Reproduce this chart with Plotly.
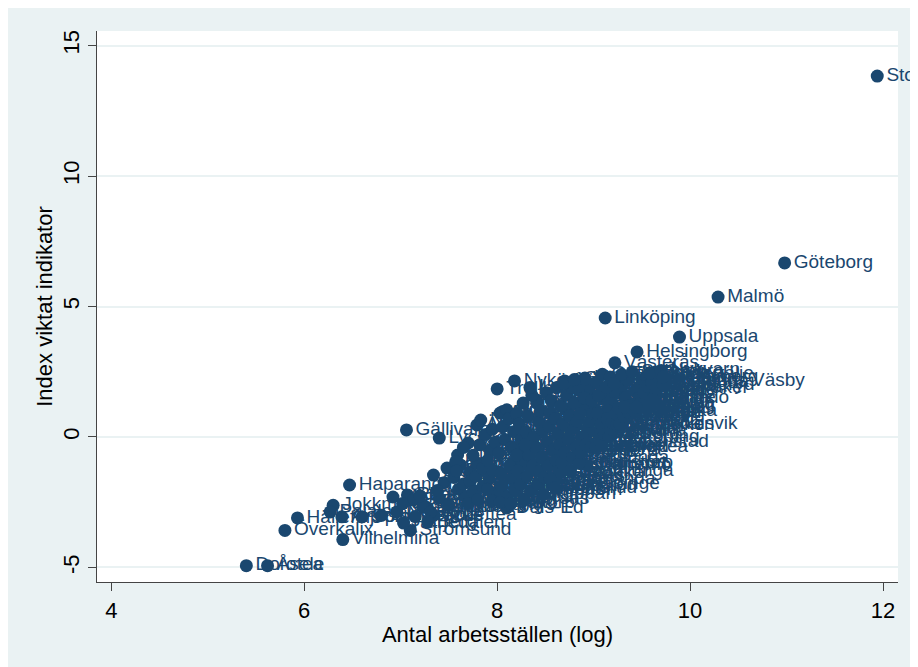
import plotly.graph_objects as go

# ---- data: readable / labelled municipalities ----
namn_a = ["Stockholm", "Göteborg", "Malmö", "Linköping", "Uppsala", "Helsingborg", "Västerås",
          "Örebro", "Södertälje", "Nyköping", "Trollhättan", "Falun", "Gällivare", "Lycksele",
          "Haparanda", "Jokkmokk", "Hällefors", "Överkalix", "Vilhelmina", "Strömsund", "Dorotea",
          "Åsele", "Tranemo", "Hultsfred", "Ovanåker", "Norberg", "Dals-Ed", "Bengtsfors",
          "Sollefteå", "Härjedalen", "Vänersborg", "Katrineholm", "Kalmar", "Sollentuna",
          "Hässleholm", "Piteå", "Falkenberg", "Norrköping", "Alingsås"]
x_a = [11.94, 10.98, 10.29, 9.12, 9.89, 9.45, 9.22, 9.64, 9.68, 8.18, 8.00, 8.41, 7.06, 7.40,
       6.47, 6.30, 5.93, 5.80, 6.40, 7.10, 5.40, 5.62, 8.93, 8.57, 8.64, 7.98, 8.10, 7.27,
       7.34, 7.03, 8.26, 8.22, 9.06, 8.94, 8.79, 8.88, 8.93, 9.20, 8.06]
y_a = [13.83, 6.67, 5.36, 4.56, 3.83, 3.26, 2.84, 2.49, 2.42, 2.15, 1.84, 1.42, 0.27, -0.04,
       -1.84, -2.62, -3.10, -3.58, -3.93, -3.58, -4.93, -4.93, -1.09, -1.84, -1.38, -2.15, -2.72, -2.70,
       -3.00, -3.30, -0.50, -0.95, 0.19, 0.23, 0.34, 0.00, 1.04, 1.23, 0.98]

# ---- small northern / rural municipalities ----
namn_b = ["Pajala", "Arjeplog", "Sorsele", "Bjurholm", "Malå", "Ragunda", "Övertorneå", "Norsjö",
          "Storuman", "Ånge", "Arvidsjaur", "Ydre", "Laxå", "Munkfors", "Storfors", "Ljusnarsberg",
          "Bräcke", "Gullspång", "Berg", "Essunga"]
x_b = [6.27, 6.39, 6.60, 6.80, 6.92, 7.07, 7.13, 6.96, 7.23, 7.31, 7.34, 7.48, 7.20, 7.40,
       7.45, 7.38, 7.15, 7.50, 7.28, 7.02]
y_b = [-2.87, -3.06, -3.06, -3.00, -2.30, -2.22, -2.41, -2.87, -2.68, -2.87, -1.46, -1.19, -2.25, -2.35,
       -1.75, -2.05, -3.05, -2.60, -3.25, -2.55]

namn_c = ["Vindeln", "Nordmaling", "Robertsfors", "Vännäs", "Älvsbyn", "Kalix", "Åre", "Krokom",
          "Ockelbo", "Hofors", "Nordanstig", "Ljusdal", "Orsa", "Älvdalen", "Vansbro", "Malung-Sälen",
          "Rättvik", "Smedjebacken", "Skinnskatteberg", "Fagersta", "Surahammar", "Kungsör", "Arboga",
          "Degerfors", "Askersund", "Lekeberg", "Nora", "Filipstad", "Hagfors", "Torsby", "Eda", "Årjäng"]
x_c = [7.59, 7.62, 7.72, 7.70, 7.79, 7.57, 7.79, 7.93, 7.55, 7.60, 7.65, 7.68, 7.72, 7.75, 7.78, 7.82,
       7.85, 7.85, 7.88, 7.90, 7.92, 7.95, 7.96, 7.98, 7.65, 7.75, 7.83, 7.58, 7.70, 7.80, 7.90, 7.95]
y_c = [-0.69, -1.07, -1.34, -0.23, 0.46, -0.95, -1.00, -0.50, -1.55, -2.00, -1.80, -2.30, -1.70, -2.10, -1.50, -0.30,
       -1.20, -1.90, 0.10, -0.90, -1.60, 0.30, -1.30, -0.20, -0.40, -0.70, 0.65, -1.30, -2.55, -2.40, -2.00, -2.45]

namn_d = ["Aneby", "Boxholm", "Kinda", "Ödeshög", "Vadstena", "Valdemarsvik", "Åtvidaberg", "Söderköping",
          "Mullsjö", "Habo", "Gnosjö", "Sävsjö", "Eksjö", "Tranås", "Vaggeryd", "Lessebo", "Uppvidinge",
          "Tingsryd", "Markaryd", "Alvesta", "Älmhult", "Högsby", "Torsås", "Emmaboda", "Mönsterås",
          "Vimmerby", "Nybro", "Olofström", "Bromölla", "Osby", "Perstorp", "Örkelljunga", "Östra Göinge",
          "Tomelilla", "Hörby", "Höör", "Sjöbo", "Skurup", "Klippan", "Svalöv", "Bjuv", "Åstorp", "Hylte",
          "Laholm", "Båstad"]
x_d = [8.03, 8.10, 8.27, 8.41, 8.02, 8.04, 8.05, 8.06, 8.08, 8.10, 8.12, 8.13, 8.15, 8.15, 8.17,
       8.18, 8.20, 8.21, 8.23, 8.24, 8.25, 8.27, 8.28, 8.30, 8.31, 8.32, 8.33, 8.35, 8.36, 8.37,
       8.38, 8.40, 8.42, 8.43, 8.44, 8.45, 8.46, 8.47, 8.48, 8.49, 8.03, 8.14, 8.20, 8.34, 8.29]
y_d = [0.92, 1.04, -0.96, 1.30, -0.60, -1.40, -1.90, 0.40, -0.10, -2.30, 0.70, -1.10, -1.60, -0.40, 0.20,
       -2.00, 0.90, -1.30, 0.50, -1.80, -0.10, 1.30, -2.40, 0.20, -1.50, 0.80, -0.70, -2.05, 1.60, -1.10,
       0.00, -0.40, -1.80, 0.60, -1.30, 1.00, -0.80, 0.25, -2.20, -1.55, -2.50, -2.55, -0.70, 1.90, -0.30]

namn_e = ["Vetlanda", "Värnamo", "Gislaved", "Nässjö", "Ljungby", "Oskarshamn", "Västervik", "Mörbylånga",
          "Borgholm", "Ronneby", "Karlshamn", "Sölvesborg", "Eslöv", "Landskrona", "Simrishamn", "Ystad",
          "Trelleborg", "Höganäs", "Ängelholm", "Svedala", "Staffanstorp", "Kävlinge", "Lomma", "Burlöv",
          "Vellinge", "Ulricehamn", "Svenljunga", "Mark", "Herrljunga", "Vårgårda", "Bollebygd", "Lerum",
          "Ale", "Lilla Edet", "Stenungsund", "Tjörn", "Orust", "Sotenäs", "Munkedal", "Tanum", "Strömstad",
          "Uddevalla", "Färgelanda", "Mellerud", "Åmål", "Grästorp"]
x_e = [8.55, 8.73, 8.89, 8.70, 8.91, 8.95, 8.90, 9.00, 8.51, 8.52, 8.53, 8.54, 8.56, 8.58, 8.60, 8.61,
       8.62, 8.63, 8.65, 8.66, 8.67, 8.68, 8.70, 8.72, 8.74, 8.75, 8.76, 8.77, 8.78, 8.80, 8.82, 8.83,
       8.84, 8.85, 8.86, 8.87, 8.90, 8.92, 8.96, 8.97, 8.98, 8.99, 8.55, 8.60, 8.69, 8.80]
y_e = [0.92, 1.04, 1.15, 2.15, 2.26, 1.80, 2.20, 1.10, 1.70, -0.20, -1.10, 0.40, 1.40, -0.50, 0.70, -0.90,
       1.90, 0.10, -0.30, 1.20, -1.00, 0.50, -0.60, 1.60, -0.10, 0.80, -1.30, 1.90, -0.80, 1.30, -0.40, 0.60,
       1.80, -1.00, 0.90, -0.60, 1.50, -0.30, 0.60, -0.40, 1.40, 0.90, -1.60, -1.95, 2.05, 2.20]

namn_f = ["Eskilstuna", "Karlstad", "Växjö", "Halmstad", "Gävle", "Borås", "Sundsvall", "Umeå", "Lund",
          "Jönköping", "Skellefteå", "Östersund", "Luleå", "Kristianstad", "Karlskrona", "Gotland", "Varberg",
          "Kungsbacka", "Skövde", "Lidköping", "Mölndal", "Partille", "Härryda", "Kungälv", "Borlänge",
          "Sandviken", "Hudiksvall", "Örnsköldsvik", "Enköping", "Norrtälje", "Huddinge", "Nacka", "Täby",
          "Solna", "Botkyrka", "Haninge", "Järfälla", "Sigtuna", "Motala", "Mjölby"]
x_f = [9.10, 9.18, 9.05, 9.15, 9.25, 9.28, 9.21, 9.30, 9.35, 9.50, 9.02, 9.03, 9.04, 9.07, 9.08, 9.09,
       9.11, 9.13, 9.14, 9.16, 9.17, 9.18, 9.19, 9.21, 9.23, 9.24, 9.26, 9.27, 9.29, 9.31, 9.33, 9.36,
       9.38, 9.40, 9.42, 9.44, 9.47, 9.49, 9.32, 9.44]
y_f = [1.50, 1.40, 1.60, 1.00, 1.90, 1.70, 1.75, 2.00, 2.20, 2.20, -0.40, 2.10, 0.90, -0.20, 0.50, 2.40,
       0.10, 1.90, 0.70, 0.00, 2.30, 0.30, 0.55, 2.05, 0.90, 0.45, 1.10, 0.50, 2.40, 0.80, 1.50, 0.95,
       1.20, 2.50, 1.00, 1.80, 1.50, 1.30, 1.15, 1.15]

namn_g = ["Sundbyberg", "Lidingö", "Tyresö", "Upplands Väsby", "Vallentuna", "Värmdö", "Österåker",
          "Ekerö", "Danderyd", "Nykvarn", "Salem"]
x_g = [9.55, 9.52, 9.56, 9.66, 9.60, 9.62, 9.65, 9.58, 9.72, 9.70, 9.72]
y_g = [2.30, 1.70, 1.95, 2.15, 2.10, 1.50, 1.85, 2.45, 2.00, 2.55, 2.30]

x_ticks = [4, 6, 8, 10, 12]
y_ticks = [-5, 0, 5, 10, 15]
y_ticktext = ["-5", "0", "5", "10", "15"]

kommun = namn_a + namn_b + namn_c + namn_d + namn_e + namn_f + namn_g
log_arbst = x_a + x_b + x_c + x_d + x_e + x_f + x_g
index_viktat = y_a + y_b + y_c + y_d + y_e + y_f + y_g
assert len(kommun) == len(log_arbst) == len(index_viktat)

NAVY = "#1a476f"
BG = "#eaf2f3"
FONT = "Arial, Liberation Sans, sans-serif"

fig = go.Figure(go.Scatter(
    x=log_arbst, y=index_viktat, text=kommun,
    mode="markers+text", textposition="middle right",
    marker=dict(size=13, color=NAVY, line=dict(width=0)),
    textfont=dict(family=FONT, size=19, color=NAVY),
    cliponaxis=False, hoverinfo="text",
))

# page has an 8px body margin: the figure is sized and placed to fit the window
fig.update_layout(
    width=910, height=659,
    margin=dict(l=89, r=20, t=23, b=85, autoexpand=False),
    paper_bgcolor=BG, plot_bgcolor="white",
    showlegend=False,
    font=dict(family=FONT, color="black"),
)
fig.update_xaxes(
    range=[3.852, 12.155], tickvals=x_ticks,
    showgrid=False, zeroline=False,
    showline=True, linecolor="#444", linewidth=1.2,
    ticks="outside", ticklen=8, tickwidth=1.2, tickcolor="#444",
    tickfont=dict(size=22, family=FONT, color="black"),
    title=dict(text="Antal arbetsställen (log)", font=dict(size=22, family=FONT, color="black"), standoff=4),
    automargin=False,
)
fig.update_yaxes(
    range=[-5.556, 15.556], tickvals=y_ticks, ticktext=y_ticktext, tickangle=-90,
    showgrid=True, gridcolor=BG, gridwidth=1.5, zeroline=False,
    showline=True, linecolor="#444", linewidth=1.2,
    ticks="outside", ticklen=8, tickwidth=1.2, tickcolor="#444",
    tickfont=dict(size=22, family=FONT, color="black"),
    title=dict(text="Index viktat indikator", font=dict(size=22, family=FONT, color="black"), standoff=0),
    automargin=False,
)

fig.write_html("out.html")
